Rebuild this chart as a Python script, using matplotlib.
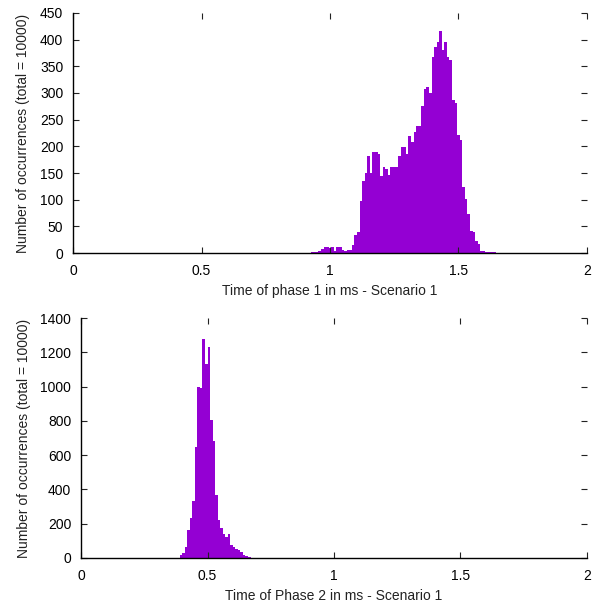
import numpy as np
import matplotlib
matplotlib.use("Agg")
import matplotlib.pyplot as plt
from matplotlib.ticker import FuncFormatter

plt.rcParams['font.family'] = ['Liberation Sans', 'DejaVu Sans']

# histogram data, bin width 0.01 ms
bin_width = 0.01

phase1_start = 0.925
phase1_counts = [1, 1, 2, 3, 7, 11, 11, 9, 11, 4, 11, 11, 6, 3, 6, 6,
                 15, 34, 40, 98, 135, 150, 182, 150, 189, 189, 185, 145,
                 161, 157, 146, 161, 161, 161, 182, 199, 199, 185, 219,
                 208, 226, 238, 238, 275, 307, 311, 300, 367, 386, 395,
                 417, 380, 395, 367, 362, 287, 281, 221, 212, 124, 101,
                 74, 42, 40, 23, 16, 4, 4, 2, 1, 1, 1]

phase2_start = 0.38
phase2_counts = [2, 16, 27, 62, 161, 231, 330, 645, 995, 990, 1275, 1130,
                 1229, 803, 680, 365, 220, 173, 138, 120, 138, 74, 62, 50,
                 45, 33, 16, 10, 4]

xticks = [0, 0.5, 1, 1.5, 2]
ylabel = 'Number of occurrences (total = 10000)'
xlabel1 = 'Time of phase 1 in ms - Scenario 1'
xlabel2 = 'Time of Phase 2 in ms - Scenario 1'

bar_color = '#9400D3'


def draw_hist(ax, start, counts, ymax, ystep, xlabel):
    left = start + bin_width * np.arange(len(counts))
    ax.bar(left, counts, width=bin_width, align='edge', color=bar_color,
           linewidth=0, zorder=1)
    ax.set_xlim(0, 2)
    ax.set_ylim(0, ymax)
    ax.set_xticks(xticks)
    ax.set_yticks(np.arange(0, ymax + 1, ystep))
    ax.xaxis.set_major_formatter(FuncFormatter(lambda v, p: '%g' % v))
    ax.spines['top'].set_visible(False)
    ax.spines['right'].set_visible(False)
    for s in ('left', 'bottom'):
        ax.spines[s].set_linewidth(1.0)
        ax.spines[s].set_zorder(3)
    ax.tick_params(direction='in', top=True, right=True, length=4.5,
                   width=0.8, labelsize=10, color='#222222')
    ax.tick_params(axis='x', pad=8)
    ax.tick_params(axis='y', pad=7)
    ax.set_xlabel(xlabel, fontsize=10, labelpad=4, color='#222222')
    ax.set_ylabel(ylabel, fontsize=10, labelpad=7, color='#222222')


fig = plt.figure(figsize=(6.06, 6.04), dpi=100)
ax1 = fig.add_axes([0.1205, 0.5811, 0.8481, 0.3974])
ax2 = fig.add_axes([0.1337, 0.0762, 0.8349, 0.3973])

draw_hist(ax1, phase1_start, phase1_counts, 450, 50, xlabel1)
draw_hist(ax2, phase2_start, phase2_counts, 1400, 200, xlabel2)

fig.savefig('out.png', dpi=100)
